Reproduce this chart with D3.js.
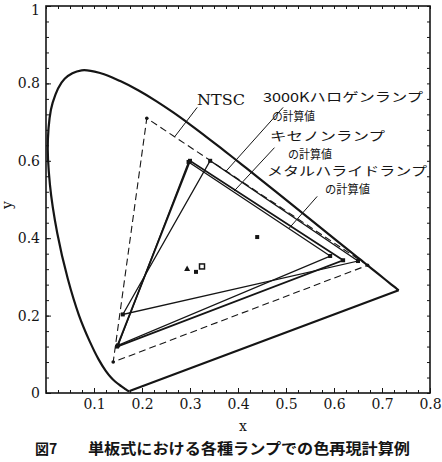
<!DOCTYPE html>
<html><head><meta charset="utf-8">
<script src="https://cdn.jsdelivr.net/npm/d3@7"></script>
<style>body{margin:0;background:#fff}svg{display:block}</style>
</head><body><svg id="c" width="442" height="462"></svg>
<script>
// CIE 1931 spectral locus (380 nm → 700 nm)
const locusX=[0.1741,0.1733,0.1726,0.1714,0.1689,0.1644,0.1566,0.1440,0.1355,0.1241,0.1096,0.0913,0.0687,0.0454,0.0235,0.0082,0.0039,0.0139,0.0389,0.0743,0.1142,0.1547,0.1929,0.2296,0.2658,0.3016,0.3373,0.3731,0.4087,0.4441,0.4788,0.5125,0.5448,0.5752,0.6029,0.6270,0.6482,0.6658,0.6915,0.7079,0.7190,0.7260,0.7300,0.7334,0.7347];
const locusY=[0.0050,0.0048,0.0048,0.0051,0.0069,0.0109,0.0177,0.0297,0.0399,0.0578,0.0868,0.1327,0.2007,0.2950,0.4127,0.5384,0.6548,0.7502,0.8120,0.8338,0.8262,0.8059,0.7816,0.7543,0.7243,0.6923,0.6589,0.6245,0.5896,0.5547,0.5202,0.4866,0.4544,0.4242,0.3965,0.3725,0.3514,0.3340,0.3083,0.2920,0.2809,0.2740,0.2700,0.2666,0.2653];
// primaries R, G, B
const ntscX=[0.67,0.21,0.14],   ntscY=[0.33,0.71,0.08];
const halogenX=[0.650,0.342,0.160], halogenY=[0.341,0.600,0.203];
const xenonX=[0.619,0.300,0.148],   xenonY=[0.343,0.600,0.120];
const metalX=[0.592,0.297,0.150],   metalY=[0.354,0.597,0.123];
// white points
const whiteX=[0.294,0.3125,0.325,0.44], whiteY=[0.322,0.313,0.327,0.403];
const whiteShape=['tri','dot','sq','dot'];
const xTicks=[0.1,0.2,0.3,0.4,0.5,0.6,0.7,0.8];
const yTicks=[0,0.2,0.4,0.6,0.8,1];
const yTickLabels=['0','0.2','0.4','0.6','0.8','1'];
// labels: text lines and leader lines (data coords)
const labelTexts=['NTSC','3000Kハロゲンランプ','の計算値','キセノンランプ','の計算値','メタルハライドランプ','の計算値'];
const leaderX1=[0.315,0.494,0.476,0.565], leaderY1=[0.738,0.738,0.634,0.508];
const leaderX2=[0.268,0.375,0.392,0.506], leaderY2=[0.662,0.573,0.522,0.425];
const caption1='図7', caption2='単板式における各種ランプでの色再現計算例';

const svg=d3.select('#c');
const ink='#151515';
const x=d3.scaleLinear().domain([0,0.8]).range([46,430]);
const y=d3.scaleLinear().domain([0,1]).range([393,6]);
const serif='"DejaVu Serif", "Liberation Serif", serif';
const jp='"Noto Sans CJK JP", sans-serif';

// axes (ticks inward on all four sides)
const minorX=d3.range(0,0.8001,0.025), minorY=d3.range(0,1.0001,0.04);
function ax(gen,tr,vals,size,labels,fmt){
  const g=svg.append('g').attr('transform',tr).call(gen.tickValues(vals).tickSize(size).tickSizeOuter(0).tickPadding(6).tickFormat(labels?fmt:()=>''));
  g.select('.domain').remove();
  g.selectAll('line').attr('stroke',ink).attr('stroke-width',1);
  g.selectAll('text').attr('font-family',serif).attr('font-size',14).attr('fill',ink);
  return g;
}
ax(d3.axisBottom(x),'translate(0,393)',minorX,-3,false);
ax(d3.axisTop(x),'translate(0,6)',minorX,-3,false);
ax(d3.axisLeft(y),'translate(46,0)',minorY,-3,false);
ax(d3.axisRight(y),'translate(430,0)',minorY,-3,false);
ax(d3.axisBottom(x),'translate(0,393)',xTicks,-5,true,d=>d3.format('.1f')(d));
const gy=ax(d3.axisLeft(y),'translate(46,0)',yTicks,-5,true,(d,i)=>yTickLabels[i]);
gy.selectAll('text').filter(d=>d===1).attr('dy','0.75em').attr('y',-2);
svg.append('rect').attr('x',x(0)).attr('y',y(1)).attr('width',x(0.8)-x(0)).attr('height',y(0)-y(1))
  .attr('fill','none').attr('stroke',ink).attr('stroke-width',1.6);

// spectral locus
const locus=locusX.map((v,i)=>[v,locusY[i]]);
svg.append('path').attr('d',d3.line().x(d=>x(d[0])).y(d=>y(d[1])).curve(d3.curveCatmullRom)(locus))
  .attr('fill','none').attr('stroke',ink).attr('stroke-width',2.2);
svg.append('line').attr('x1',x(locusX[0])).attr('y1',y(locusY[0])).attr('x2',x(locusX[locusX.length-1])).attr('y2',y(locusY[locusY.length-1]))
  .attr('stroke',ink).attr('stroke-width',2.2);

// triangles
function tri(xs,ys,w,dash){
  const pts=xs.map((v,i)=>[x(v),y(ys[i])]);
  svg.append('path').attr('d',d3.line()(pts)+'Z').attr('fill','none').attr('stroke',ink)
    .attr('stroke-width',w).attr('stroke-linejoin','miter').attr('stroke-dasharray',dash||null);
  return pts;
}
const pN=tri(ntscX,ntscY,1.1,'7,4');
const pH=tri(halogenX,halogenY,1.3);
const pX=tri(xenonX,xenonY,1.8);
const pM=tri(metalX,metalY,1.3);
pN.forEach(p=>svg.append('circle').attr('cx',p[0]).attr('cy',p[1]).attr('r',1.8).attr('fill',ink));
[pH,pX,pM].forEach(ps=>ps.forEach(p=>svg.append('rect').attr('x',p[0]-2).attr('y',p[1]-2).attr('width',4).attr('height',4).attr('fill',ink)));

// white points
whiteX.forEach((v,i)=>{
  const cx=x(v), cy=y(whiteY[i]), s=whiteShape[i];
  if(s==='tri') svg.append('path').attr('d',`M${cx},${cy-3}L${cx+3},${cy+2.5}L${cx-3},${cy+2.5}Z`).attr('fill',ink);
  else if(s==='sq') svg.append('rect').attr('x',cx-2.5).attr('y',cy-2.5).attr('width',5).attr('height',5).attr('fill','none').attr('stroke',ink).attr('stroke-width',1.5);
  else svg.append('rect').attr('x',cx-2).attr('y',cy-2).attr('width',4).attr('height',4).attr('fill',ink);
});

// leaders
leaderX1.forEach((v,i)=>{
  svg.append('line').attr('x1',x(v)).attr('y1',y(leaderY1[i])).attr('x2',x(leaderX2[i])).attr('y2',y(leaderY2[i]))
    .attr('stroke',ink).attr('stroke-width',1);
});

// label texts
const tPos=[[197,105,48,serif,15],[263,102,160,jp,12.5],[272,121,43,jp,12],
  [270,141,115,jp,12.5],[288,159,44,jp,12],
  [267,176,160,jp,12.5],[325,194,45,jp,12]];
labelTexts.forEach((t,i)=>{
  const p=tPos[i];
  svg.append('text').attr('x',p[0]).attr('y',p[1]).attr('textLength',p[2]).attr('lengthAdjust','spacingAndGlyphs')
    .attr('font-family',p[3]).attr('font-size',p[4]).attr('fill',ink).text(t);
});

// axis titles
svg.append('text').attr('transform','translate(12,205) rotate(-90)').attr('text-anchor','middle')
  .attr('font-family',serif).attr('font-size',14).attr('fill',ink).text('y');
svg.append('text').attr('x',243).attr('y',431).attr('text-anchor','middle')
  .attr('font-family',serif).attr('font-size',14).attr('fill',ink).text('x');
// caption
svg.append('text').attr('x',35).attr('y',454).attr('font-family',jp).attr('font-weight','bold')
  .attr('font-size',14).attr('fill',ink).text(caption1);
svg.append('text').attr('x',88).attr('y',454).attr('textLength',322).attr('lengthAdjust','spacingAndGlyphs')
  .attr('font-family',jp).attr('font-weight','bold').attr('font-size',15).attr('fill',ink).text(caption2);
</script></body></html>
